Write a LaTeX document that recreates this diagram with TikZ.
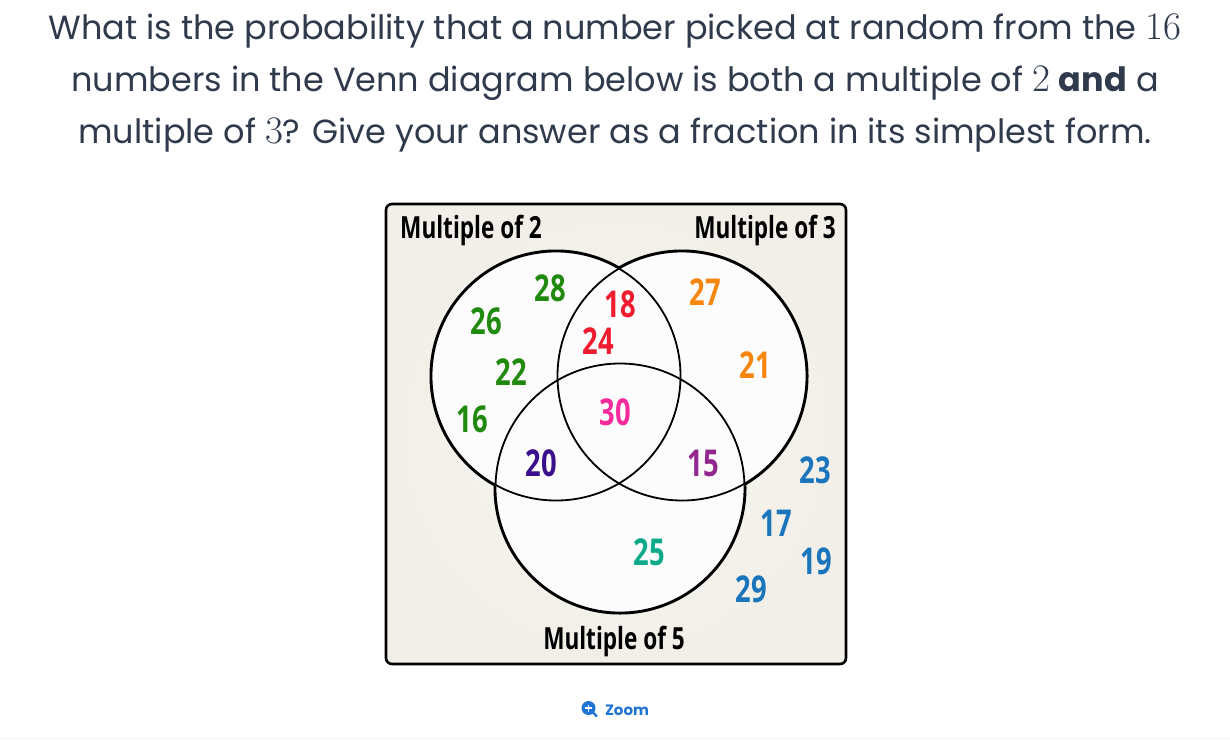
\documentclass[tikz,border=0pt]{standalone}
\usepackage{fontspec}
\setmainfont{Poppins}
\newfontfamily\vennfont[FakeStretch=0.74]{Open Sans}
\newfontfamily\digitfont{Latin Modern Roman}
\definecolor{ink}{HTML}{2F3B4C}
\definecolor{paper}{HTML}{F1EFE7}
\definecolor{inside}{HTML}{FCFCFC}
\definecolor{greennum}{HTML}{1F8A0E}
\definecolor{rednum}{HTML}{EE1C2E}
\definecolor{orangenum}{HTML}{F7860F}
\definecolor{pinknum}{HTML}{F72A9C}
\definecolor{purplenum}{HTML}{92278F}
\definecolor{indigonum}{HTML}{3B0F8C}
\definecolor{tealnum}{HTML}{0CAA8A}
\definecolor{bluenum}{HTML}{1B75BC}
\definecolor{linkblue}{HTML}{1F74D6}
\newcommand{\mathnum}[1]{{\digitfont\fontsize{39}{39}\selectfont #1}}
\tikzset{>=latex}

\begin{document}
\begin{tikzpicture}[x=1pt,y=-1pt]
	\tikzstyle{question} = [text=ink, font=\fontsize{33.5}{33.5}\selectfont, inner sep=0pt, anchor=base]
	\tikzstyle{set_label} = [text=black, font=\vennfont\bfseries\fontsize{30.5}{30.5}\selectfont, inner sep=0pt]
	\tikzstyle{num} = [font=\vennfont\bfseries\fontsize{37}{37}\selectfont, inner sep=0pt]
	\tikzstyle{ring_outer} = [draw=black, line width=4pt]
	\tikzstyle{ring_line} = [draw=black, line width=1.8pt]

	\useasboundingbox (0,0) rectangle (1230,739);
	\fill[white] (0,0) rectangle (1230,739);

%----------Question------------------------------
	\node[question] (line1) at (615,39) {What is the probability that a number picked at random from the \mathnum{16}};
	\node[question] (line2) at (615,91) {numbers in the Venn diagram below is both a multiple of \mathnum{2} \textbf{and} a};
	\node[question] (line3) at (615,143) {multiple of \mathnum{3}? Give your answer as a fraction in its simplest form.};

%----------Frame---------------------------------
	\draw[black, line width=2.6pt, rounded corners=6pt, inner color=white!45!paper, outer color=paper] (386,204) rectangle (846,664);

%----------Circles-------------------------------
	\draw[ring_outer] (556,376) circle (124.5);
	\draw[ring_outer] (682,376) circle (124.5);
	\draw[ring_outer] (620,488) circle (124.5);
	\path[fill=inside] (556,376) circle (124.5);
	\path[fill=inside] (682,376) circle (124.5);
	\path[fill=inside] (620,488) circle (124.5);
	\draw[ring_line] (556,376) circle (124.5);
	\draw[ring_line] (682,376) circle (124.5);
	\draw[ring_line] (620,488) circle (124.5);

%----------Set labels----------------------------
	\node[set_label] (lab2) at (471,230) {Multiple of 2};
	\node[set_label] (lab3) at (765,230) {Multiple of 3};
	\node[set_label] (lab5) at (614,641) {Multiple of 5};

%----------Numbers-------------------------------
	\node[num, text=greennum] (n28) at (550,288) {28};
	\node[num, text=greennum] (n26) at (486,321) {26};
	\node[num, text=greennum] (n22) at (511,372) {22};
	\node[num, text=greennum] (n16) at (472,419) {16};
	\node[num, text=rednum] (n18) at (620,304) {18};
	\node[num, text=rednum] (n24) at (598,341) {24};
	\node[num, text=orangenum] (n27) at (705,292) {27};
	\node[num, text=orangenum] (n21) at (755,365) {21};
	\node[num, text=pinknum] (n30) at (615,412) {30};
	\node[num, text=indigonum] (n20) at (541,463) {20};
	\node[num, text=purplenum] (n15) at (703,463) {15};
	\node[num, text=tealnum] (n25) at (649,552) {25};
	\node[num, text=bluenum] (n23) at (815,470) {23};
	\node[num, text=bluenum] (n17) at (776,523) {17};
	\node[num, text=bluenum] (n19) at (816,561) {19};
	\node[num, text=bluenum] (n29) at (751,589) {29};

%----------Zoom link-----------------------------
	\fill[linkblue] (588.5,708) circle (7);
	\draw[linkblue, line width=2.4pt, line cap=round] (593,712.5)--(596.5,716);
	\draw[white, line width=1.4pt] (585,708)--(592,708);
	\draw[white, line width=1.4pt] (588.5,704.5)--(588.5,711.5);
	\node[text=linkblue, font=\fontsize{15}{15}\selectfont\bfseries, inner sep=0pt] (zoom) at (627,710) {Zoom};
	\fill[blue!6] (0,738) rectangle (1230,739);
\end{tikzpicture}
\end{document}
